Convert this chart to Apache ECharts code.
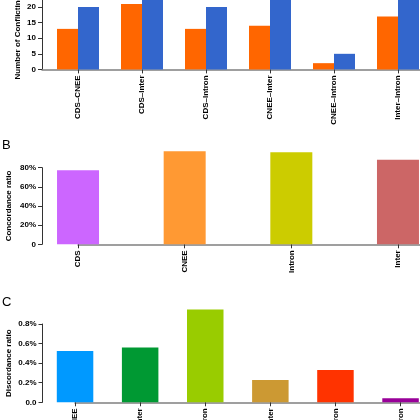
<!DOCTYPE html>
<html><head><meta charset="utf-8">
<script src="https://cdn.jsdelivr.net/npm/echarts@6/dist/echarts.min.js"></script>
<style>html,body{margin:0;padding:0;background:#fff}#c{width:420px;height:420px}</style>
</head><body><div id="c"></div>
<script>
// Panel A
const pairCategories = ['CDS–CNEE','CDS–Inter','CDS–Intron','CNEE–Inter','CNEE–Intron','Inter–Intron'];
const conflictOrange = [13, 21, 13, 14, 2, 17];
const conflictBlue = [20, 27, 20, 25, 5, 26];
// Panel B
const regionCategories = ['CDS','CNEE','Intron','Inter'];
const concordancePct = [77.3, 97.1, 96.1, 88.4];
const concordanceColors = ['#CC66FF','#FF9933','#CCCC00','#CC6666'];
const concordanceTicks = ['0','20%','40%','60%','80%'];
// Panel C
const discordancePct = [0.523, 0.561, 0.949, 0.228, 0.330, 0.041];
const discordanceColors = ['#0099FF','#009933','#99CC00','#CC9933','#FF3300','#990099'];
const discordanceTicks = ['0.0','0.2%','0.4%','0.6%','0.8%'];

const FONT = 'Liberation Sans';
const lab = {fontFamily: FONT, fontWeight: 'bold', fontSize: 8, color: '#000'};
const AX = '#333', XL = '#808080';

function yAx(grid, opts) {
  return Object.assign({
    type: 'value', gridIndex: grid, nameLocation: 'middle', nameRotate: 90,
    nameMoveOverlap: false,
    nameTextStyle: Object.assign({}, lab),
    splitLine: {show: false},
    axisLine: {show: true, lineStyle: {color: AX, width: 1}},
    axisTick: {show: true, length: 4, lineStyle: {color: AX, width: 1}},
    axisLabel: Object.assign({margin: 6}, lab)
  }, opts);
}
function catAx(grid, data) {
  return {
    type: 'category', gridIndex: grid, data: data,
    axisLine: {show: false},
    axisTick: {show: true, alignWithLabel: true, length: 4, lineStyle: {color: AX, width: 1}},
    axisLabel: Object.assign({rotate: 90, margin: 6, interval: 0}, lab)
  };
}
function lineAx(grid) {
  return {type: 'value', gridIndex: grid, min: 0, max: 1,
    axisLine: {show: true, onZero: false, lineStyle: {color: XL, width: 1.5}},
    axisTick: {show: false}, axisLabel: {show: false}, splitLine: {show: false}};
}
function hiddenY(grid) {
  return {type: 'value', gridIndex: grid, show: false, min: 0, max: 1};
}

const chart = echarts.init(document.getElementById('c'), null, {renderer: 'canvas'});
chart.setOption({
  backgroundColor: '#fff',
  animation: false,
  title: [
    {text: 'B', left: 2, top: 139, padding: 0, textStyle: {fontFamily: FONT, fontWeight: 'normal', fontSize: 13, color: '#000'}},
    {text: 'C', left: 2, top: 296, padding: 0, textStyle: {fontFamily: FONT, fontWeight: 'normal', fontSize: 13, color: '#000'}}
  ],
  grid: [
    {left: 46, right: -10, top: -21, height: 90.4, outerBoundsMode: 'none'},
    {left: 42, right: -10, top: 68.4, height: 1, outerBoundsMode: 'none'},
    {left: 24.7, right: -31.3, top: 167.7, height: 76.6, outerBoundsMode: 'none'},
    {left: 78, right: -10, top: 243.3, height: 1, outerBoundsMode: 'none'},
    {left: 42.5, right: -13.1, top: 324, height: 78.3, outerBoundsMode: 'none'},
    {left: 75, right: -10, top: 401.3, height: 1, outerBoundsMode: 'none'}
  ],
  xAxis: [
    catAx(0, pairCategories),
    lineAx(1),
    catAx(2, regionCategories),
    lineAx(3),
    catAx(4, pairCategories),
    lineAx(5)
  ],
  yAxis: [
    yAx(0, {min: 0, max: 29, interval: 5, offset: 4, name: 'Number of Conflicting Nodes', nameGap: 20}),
    hiddenY(1),
    yAx(2, {min: 0, max: 80, interval: 20, offset: -17.3, name: 'Concordance ratio', nameGap: 29,
      axisLabel: Object.assign({margin: 6, formatter: v => concordanceTicks[Math.round(v / 20)]}, lab)}),
    hiddenY(3),
    yAx(4, {min: 0, max: 0.8, interval: 0.2, name: 'Discordance ratio', nameGap: 30,
      axisLabel: Object.assign({margin: 6, formatter: v => discordanceTicks[Math.round(v / 0.2)]}, lab)}),
    hiddenY(5)
  ],
  series: [
    {type: 'bar', xAxisIndex: 0, yAxisIndex: 0, data: conflictOrange, barWidth: 21, barGap: '0%',
      itemStyle: {color: '#FF6600'}, clip: true},
    {type: 'bar', xAxisIndex: 0, yAxisIndex: 0, data: conflictBlue, barWidth: 21, barGap: '0%',
      itemStyle: {color: '#3366CC'}, clip: true},
    {type: 'bar', xAxisIndex: 2, yAxisIndex: 2, barWidth: 42, clip: false,
      data: concordancePct.map((v, i) => ({value: v, itemStyle: {color: concordanceColors[i]}}))},
    {type: 'bar', xAxisIndex: 4, yAxisIndex: 4, barWidth: 36.5, clip: false,
      data: discordancePct.map((v, i) => ({value: v, itemStyle: {color: discordanceColors[i]}}))}
  ]
});
</script></body></html>
